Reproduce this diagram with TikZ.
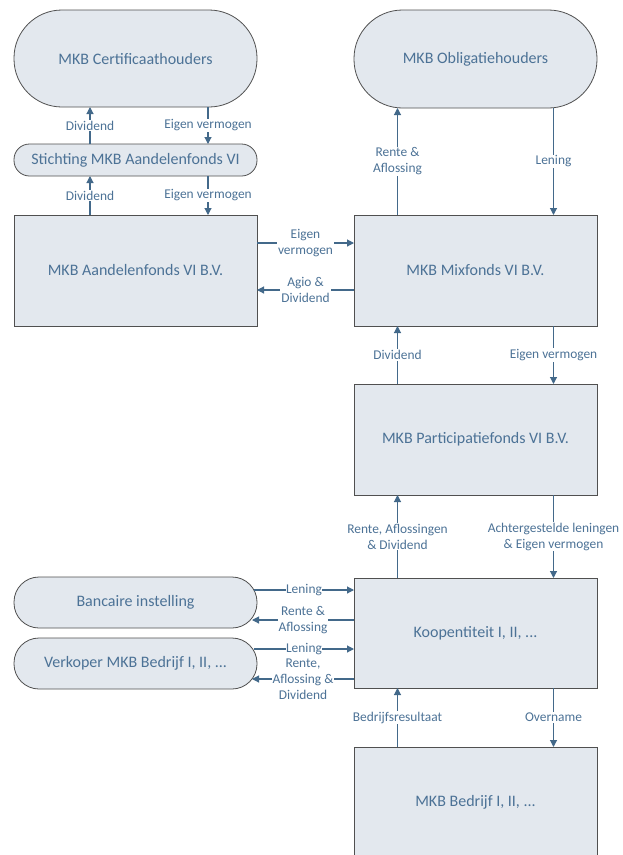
\documentclass[tikz,border=0pt]{standalone}
\usepackage{fontspec}
\setmainfont{Carlito}
\usetikzlibrary{arrows.meta}
\definecolor{fillc}{HTML}{E3E8EE}
\definecolor{txtc}{HTML}{4C7296}
\definecolor{linec}{HTML}{43698A}
\definecolor{bordc}{HTML}{505050}
\begin{document}
\begin{tikzpicture}[x=1pt,y=1pt,
  box/.style={draw=bordc, line width=0.8pt, fill=fillc, text=txtc,
    font=\fontsize{16}{19}\selectfont, minimum width=243pt, inner sep=0pt, outer sep=0pt},
  lbl/.style={fill=white, text=txtc, font=\fontsize{13.4}{16}\selectfont,
    inner sep=1pt, align=center},
  arr/.style={draw=linec, line width=1.1pt, -{Triangle[length=7pt,width=7pt]}}]
\useasboundingbox (0,0) rectangle (622,-855);
\clip (0,0) rectangle (622,-855);
\fill[white] (0,0) rectangle (622,-855);
% nodes
\node[box, minimum height=97pt, rounded corners=48pt] (cert) at (135.5,-58.5) {MKB Certificaathouders};
\node[box, minimum height=32pt, rounded corners=15.5pt] (stich) at (135.5,-160) {Stichting MKB Aandelenfonds VI};
\node[box, minimum height=111pt] (aand) at (135.5,-270.5) {MKB Aandelenfonds VI B.V.};
\node[box, minimum height=98pt, rounded corners=48.5pt] (oblig) at (475.5,-59) {MKB Obligatiehouders};
\node[box, minimum height=111pt] (mix) at (475.5,-270.5) {MKB Mixfonds VI B.V.};
\node[box, minimum height=111pt] (part) at (475.5,-439.5) {MKB Participatiefonds VI B.V.};
\node[box, minimum height=110pt] (koop) at (475.5,-633) {Koopentiteit I, II, ...};
\node[box, minimum height=111pt] (bedr) at (475.5,-802.5) {MKB Bedrijf I, II, ...};
\node[box, minimum height=51pt, rounded corners=25pt] (bank) at (135.5,-602.5) {Bancaire instelling};
\node[box, minimum height=51pt, rounded corners=25pt] (verk) at (135.5,-663.5) {Verkoper MKB Bedrijf I, II, ...};
% helper x positions
\coordinate (xl) at (90,0);
\coordinate (xr) at (208,0);
\coordinate (xa) at (397.5,0);
\coordinate (xb) at (553.5,0);
% left column
\draw[arr] (stich.north -| xl) -- node[lbl] {Dividend} (cert.south -| xl);
\draw[arr] (cert.south -| xr) -- node[lbl] {Eigen vermogen} (stich.north -| xr);
\draw[arr] (aand.north -| xl) -- node[lbl] {Dividend} (stich.south -| xl);
\draw[arr] (stich.south -| xr) -- node[lbl] {Eigen vermogen} (aand.north -| xr);
% aand <-> mix
\draw[arr] ([yshift=27.5pt]aand.east) -- node[lbl] {Eigen\\vermogen} ([yshift=27.5pt]mix.west);
\draw[arr] ([yshift=-19.5pt]mix.west) -- node[lbl] {Agio \&\\Dividend} ([yshift=-19.5pt]aand.east);
% right column
\draw[arr] (mix.north -| xa) -- node[lbl] {Rente \&\\Aflossing} (oblig.south -| xa);
\draw[arr] (oblig.south -| xb) -- node[lbl] {Lening} (mix.north -| xb);
\draw[arr] (part.north -| xa) -- node[lbl] {Dividend} (mix.south -| xa);
\draw[arr] (mix.south -| xb) -- node[lbl] {Eigen vermogen} (part.north -| xb);
\draw[arr] (koop.north -| xa) -- node[lbl] {Rente, Aflossingen\\\& Dividend} (part.south -| xa);
\draw[arr] (part.south -| xb) -- node[lbl] {Achtergestelde leningen\\\& Eigen vermogen} (koop.north -| xb);
\draw[arr] (bedr.north -| xa) -- node[lbl] {Bedrijfsresultaat} (koop.south -| xa);
\draw[arr] (koop.south -| xb) -- node[lbl] {Overname} (bedr.north -| xb);
% bank / verkoper
\coordinate (b1) at ([xshift=-3pt,yshift=12.5pt]bank.east);
\coordinate (b2) at ([xshift=-5pt,yshift=-17.5pt]bank.east);
\coordinate (v1) at ([xshift=-3pt,yshift=14.5pt]verk.east);
\coordinate (v2) at ([xshift=-5pt,yshift=-15.5pt]verk.east);
\draw[arr] (b1) -- node[lbl, inner sep=0.5pt] {Lening} (koop.west |- b1);
\draw[arr] (koop.west |- b2) -- node[lbl] {Rente \&\\Aflossing} (b2);
\draw[arr] (v1) -- node[lbl, inner sep=0.5pt] {Lening} (koop.west |- v1);
\draw[arr] (koop.west |- v2) -- node[lbl, inner sep=0.5pt] {Rente,\\Aflossing \&\\Dividend} (v2);
\end{tikzpicture}
\end{document}
